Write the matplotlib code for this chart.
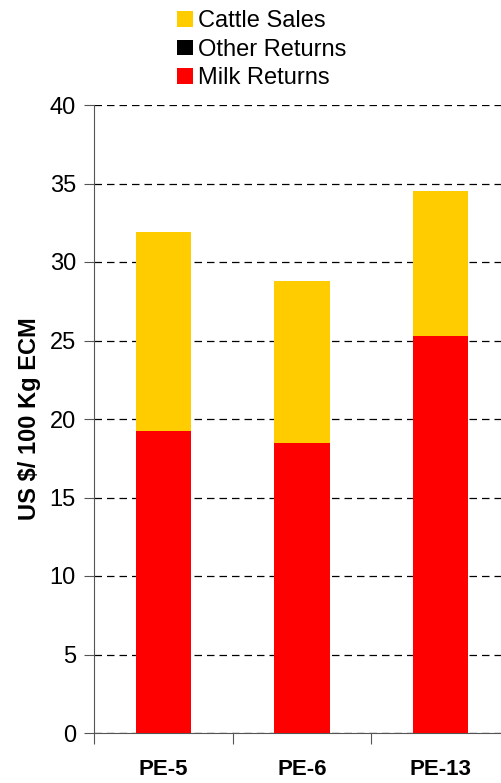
import matplotlib.pyplot as plt
from matplotlib.patches import Patch

plt.rcParams["font.family"] = ["Liberation Sans", "DejaVu Sans"]

categories = ["PE-5", "PE-6", "PE-13"]
milk_returns = [19.25, 18.5, 25.3]
other_returns = [0.0, 0.0, 0.0]
cattle_sales = [12.65, 10.3, 9.2]

MILK = "#ff0000"
OTHER = "#000000"
CATTLE = "#ffcc00"


def main() -> None:
    fig = plt.figure(figsize=(5.02, 7.83), dpi=100)
    ax = fig.add_axes([94 / 502, 50 / 783, 416 / 502, 628 / 783])

    x = list(range(len(categories)))
    width = 0.4
    ax.bar(x, milk_returns, width, color=MILK, zorder=3)
    bottom2 = [m for m in milk_returns]
    ax.bar(x, other_returns, width, bottom=bottom2, color=OTHER, zorder=3)
    bottom3 = [m + o for m, o in zip(milk_returns, other_returns)]
    ax.bar(x, cattle_sales, width, bottom=bottom3, color=CATTLE, zorder=3)

    ax.set_xlim(-0.5, len(categories) - 0.5)
    ax.set_ylim(0, 40)
    ax.set_yticks(range(0, 41, 5))
    ax.yaxis.grid(True, color="black", linestyle=(0, (6, 4)), linewidth=0.9)
    ax.set_axisbelow(True)

    ax.set_xticks([i - 0.5 for i in range(len(categories) + 1)])
    ax.set_xticklabels([])
    ax.set_xticks(x, minor=True)
    ax.set_xticklabels(categories, minor=True, fontsize=16, fontweight="bold")
    ax.tick_params(axis="x", which="major", length=8, direction="out", color="#555555")
    ax.tick_params(axis="x", which="minor", length=0, pad=19)
    ax.tick_params(axis="y", length=7, direction="out", labelsize=17, pad=6,
                   color="#555555")

    for side in ["top", "right"]:
        ax.spines[side].set_visible(False)
    ax.spines["left"].set_color("#555555")
    ax.spines["bottom"].set_color("#555555")

    ax.set_ylabel("US $/ 100 Kg ECM", fontsize=17, fontweight="bold", labelpad=6)

    handles = [
        Patch(facecolor=CATTLE, label="Cattle Sales"),
        Patch(facecolor=OTHER, label="Other Returns"),
        Patch(facecolor=MILK, label="Milk Returns"),
    ]
    fig.legend(
        handles=handles,
        loc="upper left",
        bbox_to_anchor=(163 / 502, 1.005),
        frameon=False,
        fontsize=17,
        handlelength=0.65,
        handleheight=0.65,
        handletextpad=0.25,
        labelspacing=0.28,
        borderaxespad=0.2,
    )

    fig.savefig("out.png", dpi=100)
    plt.close(fig)


if __name__ == "__main__":
    main()
